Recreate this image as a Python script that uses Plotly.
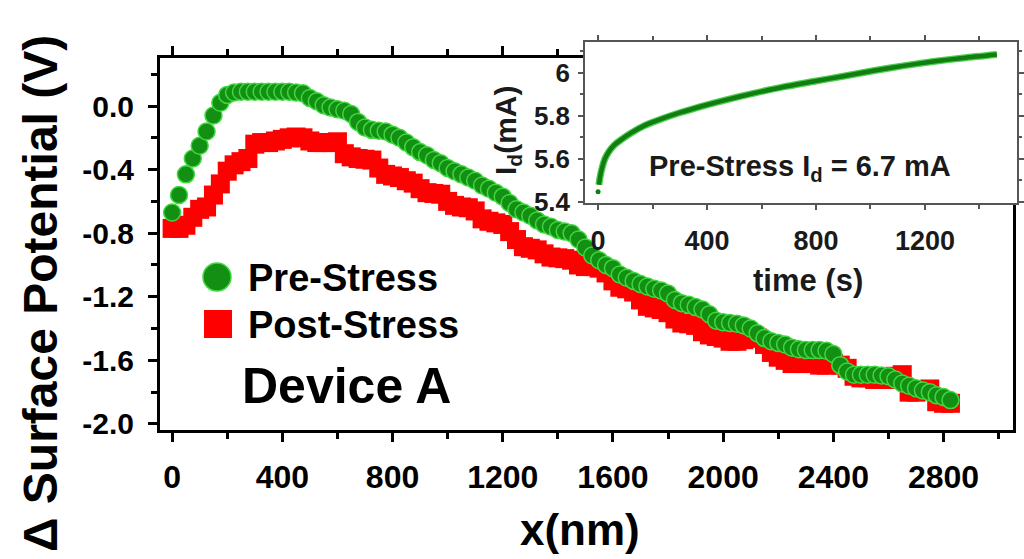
import plotly.graph_objects as go

# ---------------- data ----------------
x_nm = [0, 25, 50, 75, 100, 125, 150, 175, 200, 225, 250, 275, 300, 325, 350, 375,
        400, 425, 450, 475, 500, 525, 550, 575, 600, 625, 650, 675, 700, 725, 750, 775,
        800, 825, 850, 875, 900, 925, 950, 975, 1000, 1025, 1050, 1075, 1100, 1125, 1150, 1175,
        1200, 1225, 1250, 1275, 1300, 1325, 1350, 1375, 1400, 1425, 1450, 1475, 1500, 1525, 1550, 1575,
        1600, 1625, 1650, 1675, 1700, 1725, 1750, 1775, 1800, 1825, 1850, 1875, 1900, 1925, 1950, 1975,
        2000, 2025, 2050, 2075, 2100, 2125, 2150, 2175, 2200, 2225, 2250, 2275, 2300, 2325, 2350, 2375,
        2400, 2425, 2450, 2475, 2500, 2525, 2550, 2575, 2600, 2625, 2650, 2675, 2700, 2725, 2750, 2775,
        2800, 2825]

pre_stress = [-0.67, -0.56, -0.43, -0.33, -0.25, -0.16, -0.06, 0.02, 0.07, 0.085, 0.09, 0.09, 0.09, 0.09, 0.09, 0.09,
              0.09, 0.09, 0.085, 0.08, 0.05, 0.03, 0.005, -0.01, -0.02, -0.03, -0.05, -0.10, -0.135, -0.15, -0.155, -0.16,
              -0.18, -0.20, -0.23, -0.26, -0.29, -0.31, -0.34, -0.36, -0.39, -0.41, -0.43, -0.45, -0.47, -0.50, -0.52, -0.545,
              -0.57, -0.61, -0.65, -0.67, -0.69, -0.72, -0.745, -0.76, -0.78, -0.79, -0.80, -0.84, -0.89, -0.94, -0.97, -1.00,
              -1.02, -1.06, -1.08, -1.10, -1.12, -1.135, -1.15, -1.16, -1.18, -1.22, -1.24, -1.25, -1.265, -1.28, -1.31, -1.35,
              -1.36, -1.365, -1.37, -1.38, -1.40, -1.43, -1.46, -1.48, -1.49, -1.50, -1.52, -1.53, -1.535, -1.535, -1.535, -1.54,
              -1.56, -1.63, -1.67, -1.69, -1.69, -1.69, -1.69, -1.695, -1.70, -1.72, -1.745, -1.76, -1.775, -1.79, -1.80, -1.82,
              -1.83, -1.85]

post_stress = [-0.77, -0.77, -0.75, -0.70, -0.65, -0.635, -0.56, -0.49, -0.41, -0.37, -0.35, -0.33, -0.24, -0.23, -0.23, -0.22,
               -0.21, -0.20, -0.195, -0.20, -0.22, -0.23, -0.23, -0.23, -0.225, -0.30, -0.32, -0.33, -0.335, -0.34, -0.39, -0.43,
               -0.44, -0.45, -0.47, -0.485, -0.52, -0.545, -0.55, -0.555, -0.60, -0.625, -0.635, -0.64, -0.66, -0.71, -0.725, -0.735,
               -0.745, -0.79, -0.84, -0.885, -0.895, -0.905, -0.93, -0.95, -0.955, -0.96, -0.97, -1.00, -1.01, -1.01, -1.02, -1.05,
               -1.10, -1.14, -1.15, -1.17, -1.22, -1.26, -1.27, -1.28, -1.30, -1.34, -1.365, -1.37, -1.38, -1.42, -1.44, -1.45,
               -1.46, -1.48, -1.48, -1.47, -1.46, -1.46, -1.50, -1.55, -1.58, -1.60, -1.62, -1.62, -1.62, -1.62, -1.63, -1.63,
               -1.62, -1.63, -1.65, -1.70, -1.71, -1.71, -1.72, -1.72, -1.72, -1.70, -1.69, -1.80, -1.80, -1.79, -1.78, -1.86,
               -1.87, -1.87]

inset_t0 = [0]
inset_i0 = [5.447]
inset_t = [3, 8, 15, 25, 40, 60, 85, 120, 170, 230, 300, 380, 470, 570, 680, 790, 900, 1010, 1120, 1230, 1340, 1464]
inset_i = [5.48, 5.52, 5.56, 5.60, 5.635, 5.665, 5.69, 5.72, 5.755, 5.785, 5.815, 5.845, 5.875, 5.905, 5.935, 5.96,
           5.985, 6.01, 6.033, 6.053, 6.07, 6.086]

main_y_ticks = [0.0, -0.4, -0.8, -1.2, -1.6, -2.0]
main_y_labels = ["0.0", "-0.4", "-0.8", "-1.2", "-1.6", "-2.0"]
inset_y_ticks = [5.4, 5.6, 5.8, 6.0]
inset_y_labels = ["5.4", "5.6", "5.8", "6"]

assert len(x_nm) == len(pre_stress) == len(post_stress)
assert len(inset_t) == len(inset_i)

# ---------------- figure ----------------
W, H = 1024, 559
FONT = "Liberation Sans, Arial, sans-serif"
Y_RANGE = [-2.038, 0.302]


def px(xp):
    return xp / W


def py(yp):
    return (H - yp) / H


fig = go.Figure()

fig.add_trace(go.Scatter(
    x=x_nm, y=post_stress, mode="markers", xaxis="x", yaxis="y",
    marker=dict(symbol="square", size=19, color="#ff0000", line=dict(width=0)),
    showlegend=False, name="Post-Stress"))

fig.add_trace(go.Scatter(
    x=x_nm, y=pre_stress, mode="markers", xaxis="x", yaxis="y",
    marker=dict(symbol="circle", size=17, color="#138f13", line=dict(color="#3fd83f", width=1.5)),
    showlegend=False, name="Pre-Stress"))

# inset
fig.add_trace(go.Scatter(
    x=inset_t, y=inset_i, mode="lines", xaxis="x2", yaxis="y2",
    line=dict(color="#4fcf4f", width=7, shape="spline", smoothing=0.8), showlegend=False, hoverinfo="skip"))
fig.add_trace(go.Scatter(
    x=inset_t, y=inset_i, mode="lines", xaxis="x2", yaxis="y2",
    line=dict(color="#107e10", width=4.5, shape="spline", smoothing=0.8), showlegend=False))
fig.add_trace(go.Scatter(
    x=inset_t0, y=inset_i0, mode="markers", xaxis="x2", yaxis="y2",
    marker=dict(color="#107e10", size=5), showlegend=False))

fig.update_layout(
    width=W, height=H,
    margin=dict(l=0, r=0, t=0, b=0),
    paper_bgcolor="white", plot_bgcolor="white",
    font=dict(family=FONT, color="black"),
    showlegend=False,
    xaxis=dict(
        domain=[px(160), px(1013)], anchor="y", range=[-44, 3052],
        tickmode="linear", tick0=0, dtick=400,
        ticks="outside", ticklen=9, tickwidth=2.5, tickcolor="black",
        showline=True, linewidth=3, linecolor="black", mirror="ticks",
        showgrid=False, zeroline=False, automargin=False,
        tickfont=dict(family=FONT, size=32, weight="bold", color="black"),
        ticklabelstandoff=8,
        minor=dict(tickmode="linear", tick0=0, dtick=200, ticks="outside", ticklen=6,
                   tickwidth=2.5, tickcolor="black", showgrid=False),
    ),
    yaxis=dict(
        domain=[py(430), py(58)], anchor="x", range=Y_RANGE,
        tickmode="array", tickvals=main_y_ticks, ticktext=main_y_labels,
        ticks="outside", ticklen=9, tickwidth=2.5, tickcolor="black",
        showline=True, linewidth=3, linecolor="black", mirror=True,
        showgrid=False, zeroline=False, automargin=False,
        tickfont=dict(family=FONT, size=30, weight="bold", color="black"),
        ticklabelstandoff=8,
        minor=dict(tickmode="linear", tick0=0, dtick=0.2, ticks="outside", ticklen=6,
                   tickwidth=2.5, tickcolor="black", showgrid=False),
    ),
    # right-hand frame ticks pointing inward
    yaxis3=dict(
        overlaying="y", side="right", anchor="x", range=Y_RANGE,
        tickmode="array", tickvals=main_y_ticks, showticklabels=False,
        ticks="inside", ticklen=9, tickwidth=2.5, tickcolor="black",
        showline=False, showgrid=False, zeroline=False, automargin=False,
        minor=dict(tickmode="linear", tick0=0, dtick=0.2, ticks="inside", ticklen=6,
                   tickwidth=2.5, tickcolor="black", showgrid=False),
    ),
    xaxis2=dict(
        domain=[px(585), px(1017)], anchor="y2", range=[-48, 1538],
        tickmode="linear", tick0=0, dtick=400,
        ticks="outside", ticklen=5, tickwidth=1.5, tickcolor="#555555",
        showline=True, linewidth=1.5, linecolor="#555555", mirror="ticks",
        showgrid=False, zeroline=False, automargin=False,
        tickfont=dict(family=FONT, size=27, weight="bold", color="#1a1a1a"),
        ticklabelstandoff=8,
        minor=dict(tickmode="linear", tick0=0, dtick=200, ticks="outside", ticklen=4,
                   tickwidth=1.5, tickcolor="#555555", showgrid=False),
    ),
    yaxis2=dict(
        domain=[py(203), py(42)], anchor="x2", range=[5.395, 6.144],
        tickmode="array", tickvals=inset_y_ticks, ticktext=inset_y_labels,
        ticks="outside", ticklen=5, tickwidth=1.5, tickcolor="#555555",
        showline=True, linewidth=1.5, linecolor="#555555", mirror="ticks",
        showgrid=False, zeroline=False, automargin=False,
        tickfont=dict(family=FONT, size=26, weight="bold", color="#1a1a1a"),
        ticklabelstandoff=3,
        minor=dict(tickmode="linear", tick0=5.4, dtick=0.1, ticks="outside", ticklen=3,
                   tickwidth=1.5, tickcolor="#555555", showgrid=False),
    ),
)

# manual legend
fig.add_shape(type="circle", xref="paper", yref="paper",
              x0=px(203), x1=px(231), y0=py(291), y1=py(263),
              fillcolor="#138f13", line=dict(color="#3fd83f", width=1.5))
fig.add_shape(type="rect", xref="paper", yref="paper",
              x0=px(204), x1=px(232), y0=py(338), y1=py(310),
              fillcolor="#ff0000", line=dict(width=0))

ann = [
    dict(text="Pre-Stress", x=px(246), y=py(278), xanchor="left", yanchor="middle",
         font=dict(size=38, weight="bold")),
    dict(text="Post-Stress", x=px(246), y=py(325), xanchor="left", yanchor="middle",
         font=dict(size=38, weight="bold")),
    dict(text="Device A", x=px(346), y=py(386), xanchor="center", yanchor="middle",
         font=dict(size=50, weight="bold")),
    dict(text="x(nm)", x=px(580), y=py(529), xanchor="center", yanchor="middle",
         font=dict(size=44, weight="bold")),
    dict(text="\u0394 Surface Potential (V)", x=px(40), y=py(294), xanchor="center", yanchor="middle",
         textangle=-90, font=dict(size=48, weight="bold")),
    dict(text="Pre-Stress I<sub>d</sub> = 6.7 mA", x=px(800), y=py(168), xanchor="center", yanchor="middle",
         font=dict(size=29, weight="bold", color="#1a1a1a")),
    dict(text="time (s)", x=px(808), y=py(280), xanchor="center", yanchor="middle",
         font=dict(size=31, weight="bold", color="#1a1a1a")),
    dict(text="I<sub>d</sub>(mA)", x=px(508), y=py(130), xanchor="center", yanchor="middle",
         textangle=-90, font=dict(size=30, weight="bold", color="#1a1a1a")),
]
for a in ann:
    a.update(xref="paper", yref="paper", showarrow=False)
    a["font"].setdefault("family", FONT)
    a["font"].setdefault("color", "black")
    fig.add_annotation(**a)

fig.write_html(
    "out.html",
    config={"displayModeBar": False},
    post_script="document.body.style.margin='0';document.body.style.padding='0';document.body.style.overflow='hidden';",
)
